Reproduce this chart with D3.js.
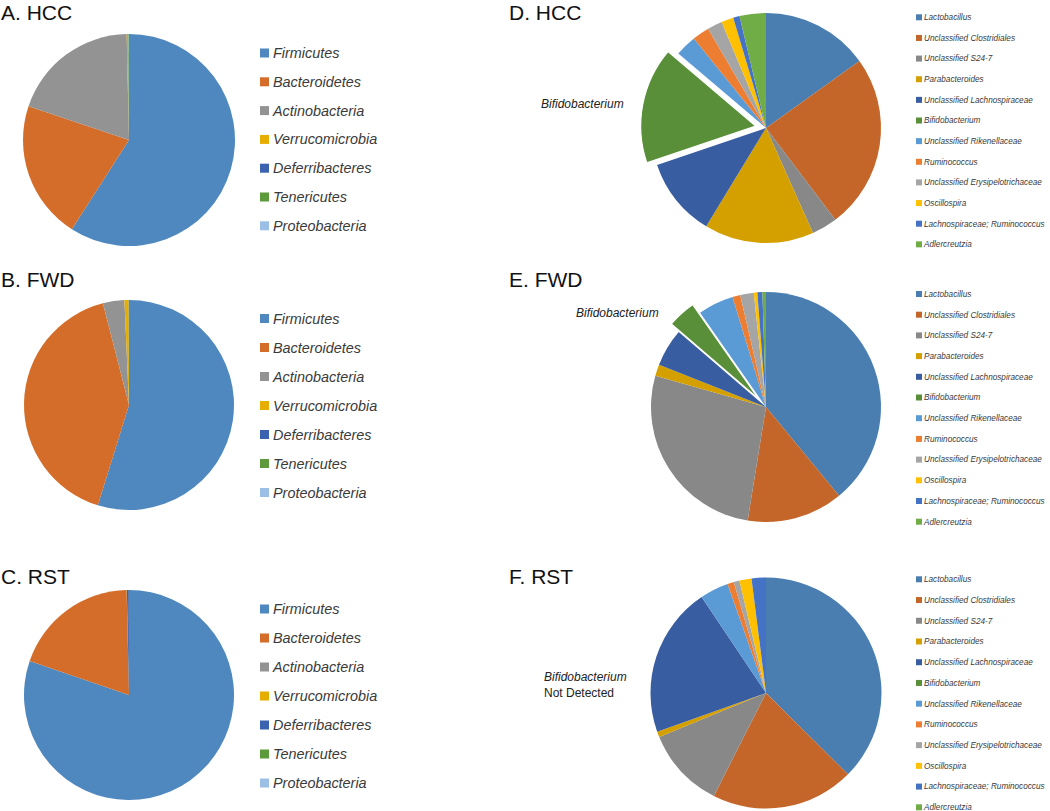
<!DOCTYPE html>
<html>
<head>
<meta charset="utf-8">
<script src="https://cdn.jsdelivr.net/npm/d3@7"></script>
<style>
  html, body { margin: 0; padding: 0; background: #fff; }
  svg { display: block; }
</style>
</head>
<body>
<svg id="chart" width="1050" height="811"></svg>
<script>
// ---------- DATA ----------
const phyla = ["Firmicutes", "Bacteroidetes", "Actinobacteria", "Verrucomicrobia",
               "Deferribacteres", "Tenericutes", "Proteobacteria"];
const phylaColors = ["#4F88BF", "#D46D29", "#939393", "#E5AE00", "#3B62AE", "#5C9A3C", "#9CC0E5"];

const hccPhylum = [59.1, 21.1, 19.5, 0.1, 0.05, 0.15, 0.05];
const fwdPhylum = [54.8, 41.2, 3.3, 0.65, 0.02, 0.02, 0.01];
const rstPhylum = [80.3, 19.4, 0.02, 0.02, 0.3, 0.01, 0.01];

const genera = ["Lactobacillus", "Unclassified Clostridiales", "Unclassified S24-7",
                "Parabacteroides", "Unclassified Lachnospiraceae", "Bifidobacterium",
                "Unclassified Rikenellaceae", "Ruminococcus", "Unclassified Erysipelotrichaceae",
                "Oscillospira", "Lachnospiraceae; Ruminococcus", "Adlercreutzia"];
const generaColors = ["#4A7EB0", "#C4662A", "#888888", "#D4A000", "#385DA0", "#5A8F3A",
                      "#5B9BD5", "#ED7D31", "#A5A5A5", "#FFC000", "#4472C4", "#70AD47"];

const hccGenus = [15.1, 24.6, 3.6, 15.4, 11.1, 16.4, 3.0, 2.4, 2.1, 1.7, 0.9, 3.7];
const fwdGenus = [39.0, 13.5, 26.8, 1.6, 5.3, 4.0, 5.0, 1.1, 1.9, 0.5, 0.7, 0.5];
const rstGenus = [37.4, 20.0, 11.3, 0.8, 21.0, 0, 4.0, 0.9, 0.8, 1.7, 2.0, 0];

const panelTitles = ["A. HCC", "B. FWD", "C. RST", "D. HCC", "E. FWD", "F. RST"];
const explodedName = "Bifidobacterium";

// ---------- DRAW ----------
const svg = d3.select("#chart");
const pie = d3.pie().sort(null).value(d => d.v);

function drawPie(cx, cy, r, names, values, colors, explode) {
  const data = names.map((n, i) => ({ n, v: values[i], c: colors[i] }));
  const arcs = pie(data);
  const arc = d3.arc().innerRadius(0).outerRadius(r);
  const g = svg.append("g").attr("transform", `translate(${cx},${cy})`);
  g.selectAll("path").data(arcs.filter(a => a.data.v > 0)).join("path")
    .attr("d", arc)
    .attr("fill", a => a.data.c)
    .attr("transform", a => {
      if (explode && a.data.n === explodedName) {
        const m = (a.startAngle + a.endAngle) / 2;
        return `translate(${Math.sin(m) * explode},${-Math.cos(m) * explode})`;
      }
      return null;
    })
    .attr("stroke", a => (explode && a.data.n === explodedName) ? "#fff" : "none")
    .attr("stroke-width", 1.2);
}

function drawLegend(x, y0, step, names, colors, sq, fs) {
  const g = svg.append("g");
  names.forEach((n, i) => {
    const y = y0 + i * step;
    g.append("rect").attr("x", x).attr("y", y - sq / 2).attr("width", sq).attr("height", sq)
      .attr("fill", colors[i]);
    g.append("text").attr("x", x + sq + (sq > 7 ? 4 : 2)).attr("y", y).attr("dy", "0.35em")
      .attr("font-family", "Liberation Sans, Arial, sans-serif")
      .attr("font-style", "italic").attr("font-size", fs).attr("fill", "#3a3a3a")
      .text(n);
  });
}

function title(x, y, t) {
  svg.append("text").attr("x", x).attr("y", y)
    .attr("font-family", "Liberation Sans, Arial, sans-serif")
    .attr("font-size", 21).attr("fill", "#111").text(t);
}

// Left column (phylum)
title(1, 19.5, panelTitles[0]);
title(1, 287, panelTitles[1]);
title(1, 584, panelTitles[2]);
drawPie(129, 140, 106, phyla, hccPhylum, phylaColors, 0);
drawPie(129, 405, 105, phyla, fwdPhylum, phylaColors, 0);
drawPie(129, 695, 105, phyla, rstPhylum, phylaColors, 0);
drawLegend(260, 53, 28.8, phyla, phylaColors, 9, 14.4);
drawLegend(260, 318.5, 29.0, phyla, phylaColors, 9, 14.4);
drawLegend(260, 609, 29.0, phyla, phylaColors, 9, 14.4);

// Right column (genus)
title(509, 19.5, panelTitles[3]);
title(509, 287, panelTitles[4]);
title(509, 584, panelTitles[5]);
drawPie(766, 128, 115, genera, hccGenus, generaColors, 10.5);
drawPie(766, 407, 115, genera, fwdGenus, generaColors, 11);
drawPie(766, 693, 115.5, genera, rstGenus, generaColors, 10.5);
drawLegend(916, 17.3, 20.64, genera, generaColors, 6, 8.2);
drawLegend(916, 294, 20.7, genera, generaColors, 6, 8.2);
drawLegend(916, 579.3, 20.73, genera, generaColors, 6, 8.2);

// Annotations
function note(x, y, t, italic) {
  svg.append("text").attr("x", x).attr("y", y).attr("dy", "0.35em")
    .attr("font-family", "Liberation Sans, Arial, sans-serif")
    .attr("font-style", italic ? "italic" : "normal")
    .attr("font-size", 12).attr("fill", "#222").text(t);
}
note(541, 104, explodedName, true);
note(576, 313, explodedName, true);
note(544, 677, explodedName, true);
note(544, 693, "Not Detected", false);
</script>
</body>
</html>
